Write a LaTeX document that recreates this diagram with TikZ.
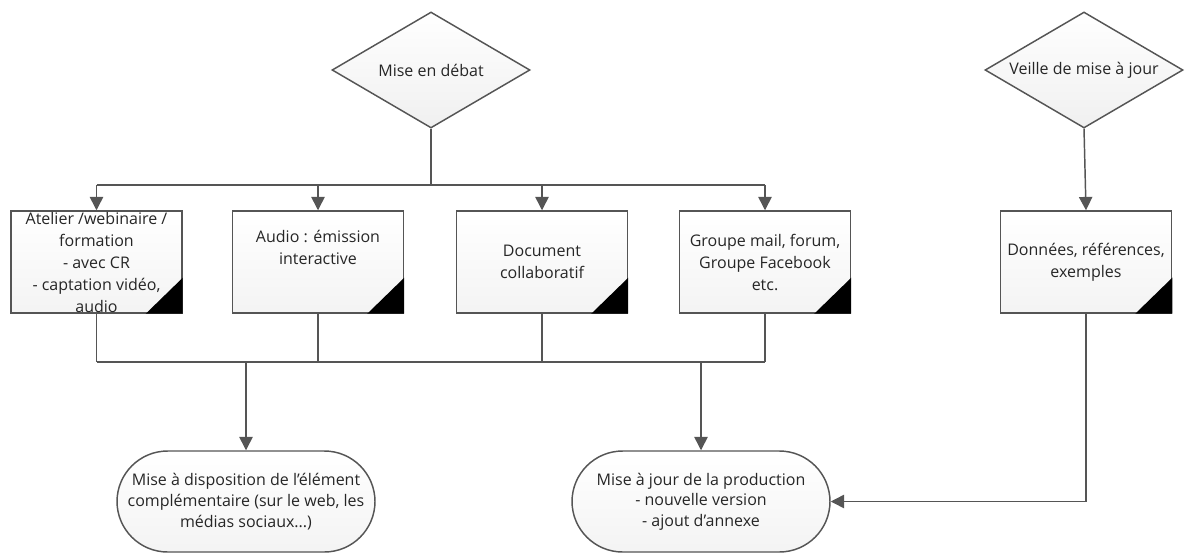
\documentclass[tikz,border=0pt]{standalone}
\usepackage{fontspec}
\setmainfont{Open Sans}
\usetikzlibrary{shapes.geometric,arrows.meta,calc}
\definecolor{linegray}{HTML}{555555}
\definecolor{textgray}{HTML}{262626}
\tikzset{
	flowbox/.style={draw=linegray,line width=1.1pt,top color=white,bottom color=gray!9,text=textgray,
		minimum width=128.25pt,minimum height=76.5pt,inner sep=0pt,align=center,
		font=\fontsize{12}{16.5}\selectfont},
	decision/.style={diamond,aspect=1.7,draw=linegray,line width=1.1pt,top color=white,bottom color=gray!12,
		text=textgray,minimum width=148.5pt,minimum height=87pt,inner sep=0pt,
		font=\fontsize{12}{16.5}\selectfont},
	terminal/.style={rectangle,rounded corners=38pt,draw=linegray,line width=1.1pt,top color=white,bottom color=gray!9,
		text=textgray,minimum width=193.5pt,minimum height=75.75pt,inner sep=0pt,align=center,
		font=\fontsize{12}{15.5}\selectfont},
	link/.style={draw=linegray,line width=1.1pt},
	arr/.style={link,-{Triangle[width=10pt,length=10pt]}}
}
\begin{document}
\begin{tikzpicture}[x=0.75pt,y=0.75pt,yscale=-1,xscale=1]
	\useasboundingbox (0,0) rectangle (1187,553);

	\node[decision] (debat) at (431,70) {Mise en débat};
	\node[decision] (veille) at (1084,70) {Veille de mise à jour};

	\node[flowbox] (b1) at (96.5,262) {Atelier /webinaire /\\formation\\- avec CR\\- captation vidéo,\\audio};
	\node[flowbox] (b2) at (318,262) {Audio : émission\\interactive\\\strut};
	\node[flowbox] (b3) at (542,262) {Document\\collaboratif};
	\node[flowbox] (b4) at (765,262) {Groupe mail, forum,\\Groupe Facebook\\etc.};
	\node[flowbox] (b5) at (1086,262) {Données, références,\\exemples};
	\foreach \b in {b1,b2,b3,b4,b5}
		\fill[black] ($(\b.south east)+(-37,0)$) -- (\b.south east) -- ($(\b.south east)+(0,-36)$) -- cycle;

	\node[terminal] (e1) at (246,501.5) {Mise à disposition de l’élément\\complémentaire (sur le web, les\\médias sociaux...)};
	\node[terminal] (e2) at (701,501.5) {Mise à jour de la production\\- nouvelle version\\- ajout d’annexe};

	\coordinate (top) at (431,185);
	\coordinate (bot) at (431,362);

	\draw[link] (debat.south) -- (top);
	\draw[link] (b1.north |- top) -- (b4.north |- top);
	\foreach \b in {b1,b2,b3,b4}
		\draw[arr] (\b.north |- top) -- (\b.north);

	\foreach \b in {b1,b2,b3,b4}
		\draw[link] (\b.south) -- (\b.south |- bot);
	\draw[link] (b1.south |- bot) -- (b4.south |- bot);
	\draw[arr] (e1.north |- bot) -- (e1.north);
	\draw[arr] (e2.north |- bot) -- (e2.north);

	\draw[arr] (veille.south) -- (b5.north);
	\draw[arr] (b5.south) |- (e2.east);
\end{tikzpicture}
\end{document}
